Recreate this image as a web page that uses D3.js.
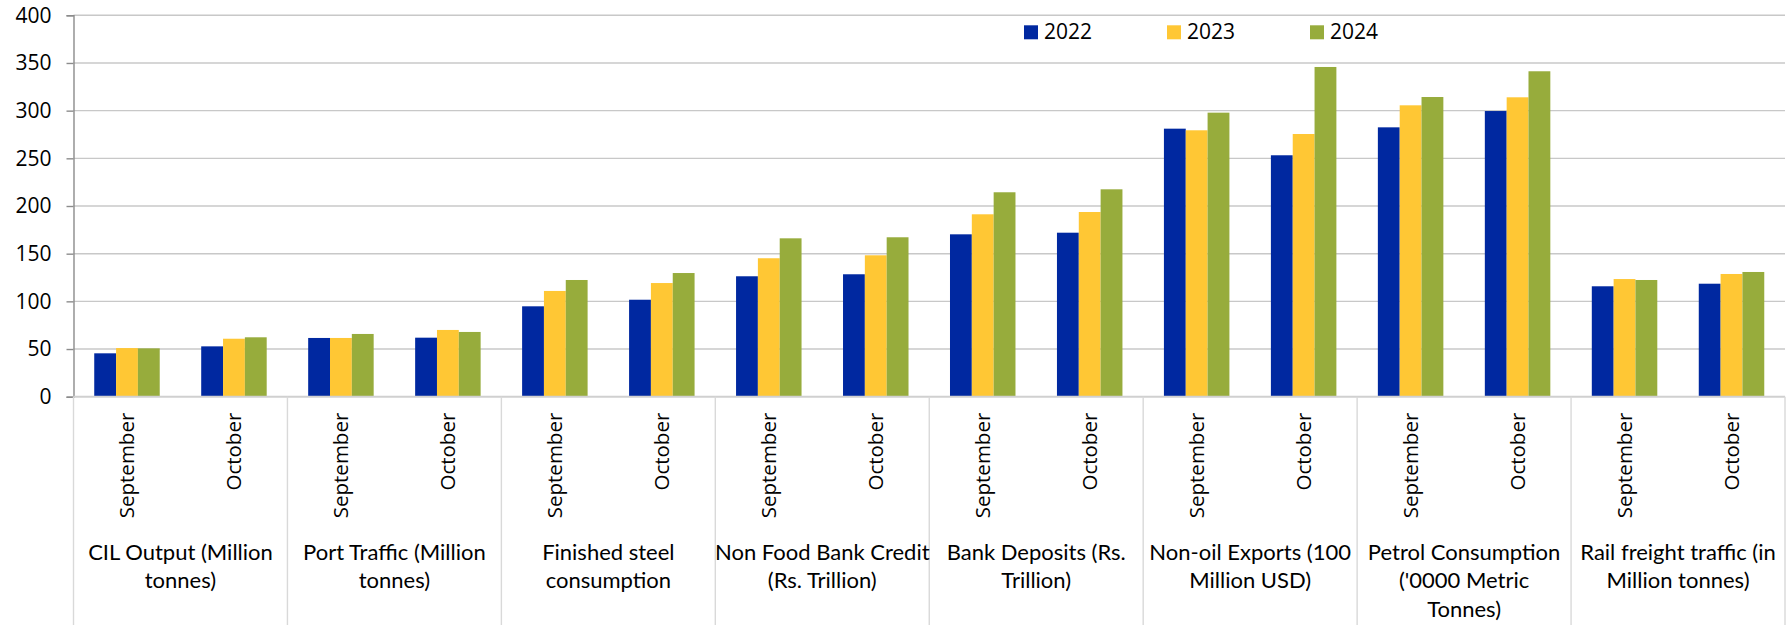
<!DOCTYPE html>
<html>
<head>
<meta charset="utf-8">
<script src="https://cdn.jsdelivr.net/npm/d3@7"></script>
<style>
  html, body { margin: 0; padding: 0; background: #fff; }
  svg { display: block; }
</style>
</head>
<body>
<svg id="chart" width="1790" height="625"></svg>
<script>
const categories = [
  "CIL Output (Million\ntonnes)",
  "Port Traffic (Million\ntonnes)",
  "Finished steel\nconsumption",
  "Non Food Bank Credit\n(Rs. Trillion)",
  "Bank Deposits (Rs.\nTrillion)",
  "Non-oil Exports (100\nMillion USD)",
  "Petrol Consumption\n('0000 Metric\nTonnes)",
  "Rail freight traffic (in\nMillion tonnes)"
];
const months = ["September", "October"];
const seriesNames = ["2022", "2023", "2024"];
// values ordered: category0-Sep, category0-Oct, category1-Sep, ...
const values2022 = [45.5, 52.8, 61.6, 61.9, 94.8, 101.7, 126.3, 128.4, 170.3, 172.0, 281.1, 253.2, 282.5, 299.6, 115.8, 118.5];
const values2023 = [51.0, 60.8, 61.6, 70.0, 110.9, 119.2, 145.2, 148.3, 191.3, 193.7, 279.4, 275.5, 305.6, 314.0, 123.4, 128.7];
const values2024 = [50.7, 62.3, 65.8, 67.9, 122.4, 129.7, 166.1, 167.2, 214.4, 217.5, 297.9, 345.8, 314.3, 341.3, 122.4, 130.8];
const yTicks = [0, 50, 100, 150, 200, 250, 300, 350, 400];
const colors = ["#0028a0", "#ffc734", "#97ac3c"];

const seriesValues = [values2022, values2023, values2024];
const svg = d3.select("#chart");

const plotLeft = 73.5, plotRight = 1785, plotTop = 15.3, plotBottom = 396.7;

const x0 = d3.scaleBand().domain(d3.range(categories.length)).range([plotLeft, plotRight]).padding(0);
const x1 = d3.scaleBand().domain(months).range([0, x0.bandwidth()]).padding(0);
const x2 = d3.scaleBand().domain(seriesNames).range([0, x1.bandwidth()]).paddingInner(0).paddingOuter(0.95);
const y = d3.scaleLinear().domain([0, 400]).range([plotBottom, plotTop]);

// gridlines
svg.append("g")
  .selectAll("line")
  .data(yTicks.filter(t => t > 0))
  .join("line")
  .attr("x1", plotLeft).attr("x2", plotRight)
  .attr("y1", d => y(d)).attr("y2", d => y(d))
  .attr("stroke", "#c8c8c8").attr("stroke-width", 1.4);

// y axis
const yAxis = svg.append("g")
  .attr("transform", `translate(${plotLeft},0)`)
  .call(d3.axisLeft(y).tickValues(yTicks).tickSize(7).tickPadding(15));
yAxis.select(".domain").attr("stroke", "#8c8c8c").attr("stroke-width", 1.4);
yAxis.selectAll(".tick line").attr("stroke", "#8c8c8c").attr("stroke-width", 1.4);
yAxis.selectAll(".tick text")
  .attr("font-family", "'Open Sans', sans-serif")
  .attr("font-size", 21)
  .attr("fill", "#000");

// bars
const flat = [];
categories.forEach((c, ci) => {
  months.forEach((m, mi) => {
    seriesNames.forEach((s, si) => {
      flat.push({ ci, m, s, si, v: seriesValues[si][ci * months.length + mi] });
    });
  });
});
svg.append("g")
  .selectAll("rect")
  .data(flat)
  .join("rect")
  .attr("x", d => x0(d.ci) + x1(d.m) + x2(d.s))
  .attr("width", x2.bandwidth())
  .attr("y", d => y(d.v))
  .attr("height", d => y(0) - y(d.v))
  .attr("fill", d => colors[d.si]);

// x axis baseline
svg.append("line")
  .attr("x1", plotLeft).attr("x2", plotRight)
  .attr("y1", y(0)).attr("y2", y(0))
  .attr("stroke", "#d0d0d0").attr("stroke-width", 2);

// category boundaries
const bounds = d3.range(categories.length + 1).map(i => i < categories.length ? x0(i) : plotRight);
svg.append("g")
  .selectAll("line")
  .data(bounds)
  .join("line")
  .attr("x1", d => d).attr("x2", d => d)
  .attr("y1", y(0)).attr("y2", 625)
  .attr("stroke", "#d9d9d9").attr("stroke-width", 1.4);

// month labels
const monthG = svg.append("g");
categories.forEach((c, ci) => {
  months.forEach(m => {
    const cx = x0(ci) + x1(m) + x1.bandwidth() / 2;
    monthG.append("text")
      .attr("transform", `translate(${cx},412.7) rotate(-90)`)
      .attr("text-anchor", "end")
      .attr("dy", "0.35em")
      .attr("font-family", "'Open Sans', sans-serif")
      .attr("font-size", 20.5)
      .attr("fill", "#000")
      .text(m);
  });
});

// category labels
const catG = svg.append("g");
categories.forEach((c, ci) => {
  const cx = x0(ci) + x0.bandwidth() / 2;
  const t = catG.append("text")
    .attr("text-anchor", "middle")
    .attr("font-family", "Lato, sans-serif")
    .attr("font-size", 22)
    .attr("fill", "#000");
  c.split("\n").forEach((line, li) => {
    t.append("tspan").attr("x", cx).attr("y", 560 + li * 28.3).text(line);
  });
});

// legend
const legendX = d3.scalePoint().domain(seriesNames).range([1024, 1310]);
const lg = svg.append("g");
seriesNames.forEach((s, si) => {
  const lx = legendX(s);
  lg.append("rect").attr("x", lx).attr("y", 25.3).attr("width", 14).attr("height", 14).attr("fill", colors[si]);
  lg.append("text")
    .attr("x", lx + 20).attr("y", 39.3)
    .attr("font-family", "'Open Sans', sans-serif")
    .attr("font-size", 21)
    .attr("fill", "#000")
    .text(s);
});
</script>
</body>
</html>
